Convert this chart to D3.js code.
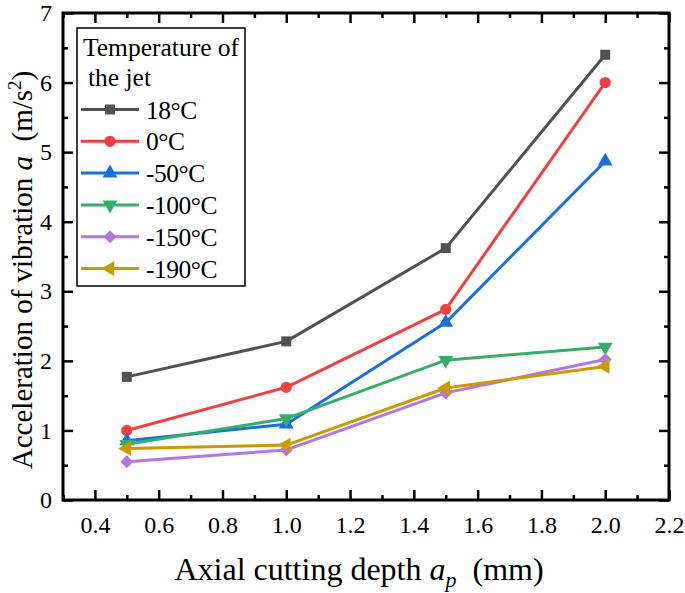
<!DOCTYPE html>
<html><head><meta charset="utf-8">
<script src="https://cdn.jsdelivr.net/npm/d3@7/dist/d3.min.js"></script>
<style>body{margin:0;background:#fff}svg{display:block}</style>
</head><body>
<svg id="c" width="685" height="593"></svg>
<script>
const xValues = [0.5, 1.0, 1.5, 2.0];
const seriesNames = ["18°C", "0°C", "-50°C", "-100°C", "-150°C", "-190°C"];
const s18  = [1.77, 2.28, 3.62, 6.40];
const s0   = [1.00, 1.62, 2.74, 6.00];
const s50  = [0.85, 1.09, 2.55, 4.87];
const s100 = [0.80, 1.17, 2.01, 2.20];
const s150 = [0.55, 0.72, 1.54, 2.02];
const s190 = [0.74, 0.79, 1.61, 1.92];
const xTicks = [0.4, 0.6, 0.8, 1.0, 1.2, 1.4, 1.6, 1.8, 2.0, 2.2];
const yTicks = [0, 1, 2, 3, 4, 5, 6, 7];

const colors = ["#515151", "#F14040", "#1A6FDF", "#37AD6B", "#B177DE", "#CC9900"];
const allSeries = [s18, s0, s50, s100, s150, s190];
const markers = [[d3.symbolSquare, 0, 100], [d3.symbolCircle, 0, 100], [d3.symbolTriangle, 0, 95],
                 [d3.symbolTriangle, 180, 95], [d3.symbolSquare, 45, 85], [d3.symbolTriangle, -90, 95]];

const FONT = "'Times New Roman','Liberation Serif',serif";
const svg = d3.select("#c");
const L = 63, R = 669, T = 13, B = 500;
const x = d3.scaleLinear().domain([0.3, 2.2]).range([L, R]);
const y = d3.scaleLinear().domain([0, 7]).range([B, T]);

const g = svg.append("g");
const xMinor = d3.range(0.3, 2.2001, 0.1).map(v => +v.toFixed(2)).filter(v => !xTicks.some(t => Math.abs(t - v) < 1e-6));
const yMinor = d3.range(0.5, 7, 1);

function axisStyle(sel){ sel.select(".domain").remove(); sel.selectAll("line").attr("stroke","#000").attr("stroke-width",2.5); }

g.append("g").attr("transform",`translate(0,${B})`)
 .call(d3.axisBottom(x).tickValues(xTicks).tickSizeInner(-10).tickSizeOuter(0).tickPadding(16).tickFormat(d3.format(".1f")))
 .call(axisStyle).call(s=>s.selectAll("text").attr("font-family",FONT).attr("font-size",24).attr("fill","#000"));
g.append("g").attr("transform",`translate(0,${B})`)
 .call(d3.axisBottom(x).tickValues(xMinor).tickSize(-5).tickFormat(""))
 .call(axisStyle);
g.append("g").attr("transform",`translate(0,${T})`)
 .call(d3.axisTop(x).tickValues(xTicks).tickSize(-10).tickFormat(""))
 .call(axisStyle);
g.append("g").attr("transform",`translate(0,${T})`)
 .call(d3.axisTop(x).tickValues(xMinor).tickSize(-5).tickFormat(""))
 .call(axisStyle);
g.append("g").attr("transform",`translate(${L},0)`)
 .call(d3.axisLeft(y).tickValues(yTicks).tickSizeInner(-10).tickSizeOuter(0).tickPadding(11).tickFormat(d3.format("d")))
 .call(axisStyle).call(s=>s.selectAll("text").attr("font-family",FONT).attr("font-size",24).attr("fill","#000"));
g.append("g").attr("transform",`translate(${L},0)`)
 .call(d3.axisLeft(y).tickValues(yMinor).tickSize(-5).tickFormat(""))
 .call(axisStyle);
g.append("g").attr("transform",`translate(${R},0)`)
 .call(d3.axisRight(y).tickValues(yTicks).tickSize(-10).tickFormat(""))
 .call(axisStyle);
g.append("g").attr("transform",`translate(${R},0)`)
 .call(d3.axisRight(y).tickValues(yMinor).tickSize(-5).tickFormat(""))
 .call(axisStyle);
svg.append("rect").attr("x",L).attr("y",T).attr("width",R-L).attr("height",B-T)
 .attr("fill","none").attr("stroke","#000").attr("stroke-width",3);

const line = d3.line().x((d,i)=>x(xValues[i])).y(d=>y(d));
allSeries.forEach((s, k) => {
  svg.append("path").datum(s).attr("d", line).attr("fill","none")
    .attr("stroke", colors[k]).attr("stroke-width", 3).attr("stroke-linejoin","round");
  const [sym, rot, size] = markers[k];
  svg.selectAll(null).data(s).enter().append("path")
    .attr("d", d3.symbol().type(sym).size(size))
    .attr("transform", (d,i)=>`translate(${x(xValues[i])},${y(d)}) rotate(${rot})`)
    .attr("fill", colors[k]);
});

const lg = svg.append("g");
lg.append("rect").attr("x",77).attr("y",28).attr("width",168).attr("height",258)
  .attr("fill","#fff").attr("stroke","#000").attr("stroke-width",1.5);
lg.append("text").attr("x",83).attr("y",56).attr("font-family",FONT).attr("font-size",25.5).text("Temperature of");
lg.append("text").attr("x",88).attr("y",86).attr("font-family",FONT).attr("font-size",25.5).text("the jet");
seriesNames.forEach((n,k)=>{
  const cy = 109.5 + k*31.8;
  lg.append("line").attr("x1",81).attr("x2",139).attr("y1",cy).attr("y2",cy)
    .attr("stroke",colors[k]).attr("stroke-width",3);
  const [sym, rot, size] = markers[k];
  lg.append("path").attr("d", d3.symbol().type(sym).size(size))
    .attr("transform",`translate(110,${cy}) rotate(${rot})`).attr("fill",colors[k]);
  lg.append("text").attr("x",146).attr("y",cy+9).attr("font-family",FONT).attr("font-size",25.5)
    .attr("letter-spacing","-0.5").text(n);
});

const xt = svg.append("text").attr("x",(178+540)/2).attr("y",580).attr("text-anchor","middle")
  .attr("font-family",FONT).attr("font-size",32);
xt.append("tspan").text("Axial cutting depth ");
xt.append("tspan").attr("font-style","italic").text("a");
xt.append("tspan").attr("font-style","italic").attr("font-size",22).attr("dy",7).text("p");
xt.append("tspan").attr("dy",-7).text("\u2002(mm)");

const yt = svg.append("text").attr("transform","translate(32,270) rotate(-90)").attr("text-anchor","middle")
  .attr("font-family",FONT).attr("font-size",29);
yt.append("tspan").text("Acceleration of vibration ");
yt.append("tspan").attr("font-style","italic").text("a");
yt.append("tspan").text("\u2002(m/s");
yt.append("tspan").attr("font-size",19).attr("dy",-11).text("2");
yt.append("tspan").attr("dy",11).text(")");
</script>
</body></html>
